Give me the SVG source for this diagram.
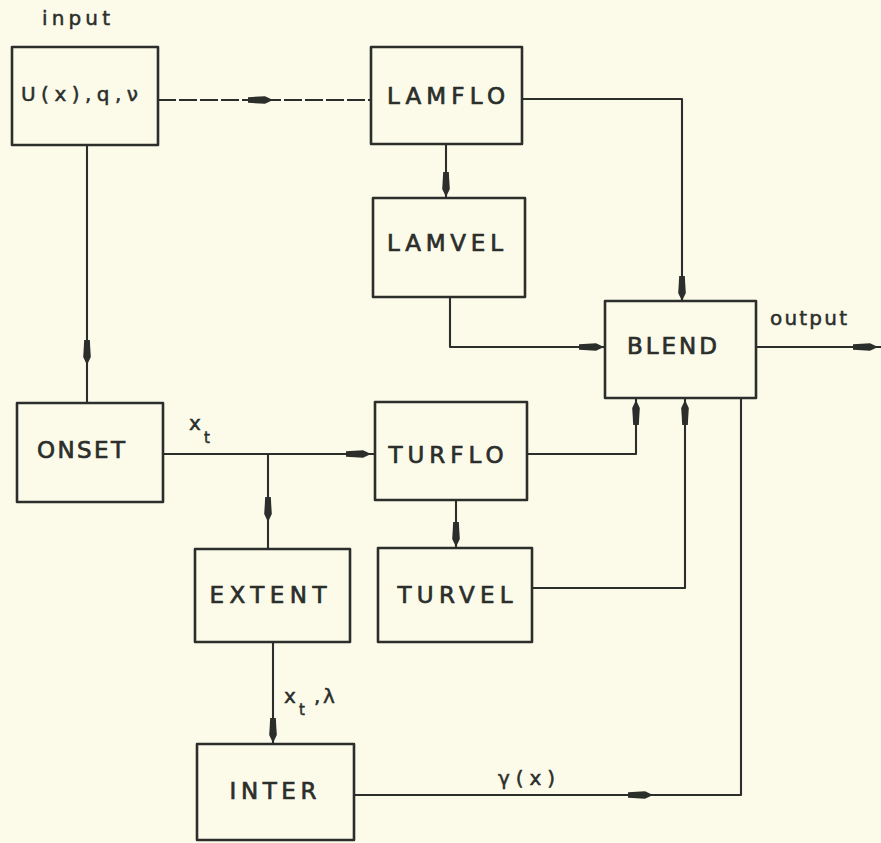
<svg xmlns="http://www.w3.org/2000/svg" xmlns:xlink="http://www.w3.org/1999/xlink" width="881" height="843" viewBox="0 0 881 843">
<defs>
<style>
.box{fill:none;stroke:#2b2e2a;stroke-width:2.6;stroke-linejoin:round}
.ln{fill:none;stroke:#2b2e2a;stroke-width:2.1;stroke-linejoin:round}
.t{font-family:"DejaVu Sans",sans-serif;font-size:23px;fill:#2b2e2a;stroke:#2b2e2a;stroke-width:0.7;text-anchor:middle}
.s{font-family:"DejaVu Sans",sans-serif;font-size:20px;fill:#2b2e2a;stroke:#2b2e2a;stroke-width:0.5}
.ss{font-family:"DejaVu Sans",sans-serif;font-size:15px;fill:#2b2e2a;stroke:#2b2e2a;stroke-width:0.5}
.ah{fill:#2b2e2a}
</style>
<path id="ah" class="ah" d="M0,0 L-8,-3.8 L-25,-2.8 L-25,2.8 L-8,3.8 Z"/>
</defs>
<rect width="881" height="843" fill="#fcfbea"/>

<g id="connectors">
<path class="ln" d="M158,100 H371" stroke-dasharray="18 3"/>
<use xlink:href="#ah" transform="translate(273,100)"/>
<path class="ln" d="M87,145 V403"/>
<use xlink:href="#ah" transform="translate(87,365) rotate(90)"/>
<path class="ln" d="M522,99 H682 V301"/>
<use xlink:href="#ah" transform="translate(682,301) rotate(90)"/>
<path class="ln" d="M446,144 V198"/>
<use xlink:href="#ah" transform="translate(446,197) rotate(90)"/>
<path class="ln" d="M450,297 V347 H605"/>
<use xlink:href="#ah" transform="translate(604,347)"/>
<path class="ln" d="M163,454 H375"/>
<use xlink:href="#ah" transform="translate(371,454)"/>
<path class="ln" d="M268,454 V549"/>
<use xlink:href="#ah" transform="translate(268,522) rotate(90)"/>
<path class="ln" d="M527,454 H636 V398"/>
<use xlink:href="#ah" transform="translate(636,400) rotate(-90)"/>
<path class="ln" d="M456,500 V548"/>
<use xlink:href="#ah" transform="translate(456,547) rotate(90)"/>
<path class="ln" d="M532,588 H685 V398"/>
<use xlink:href="#ah" transform="translate(685,400) rotate(-90)"/>
<path class="ln" d="M273,642 V744"/>
<use xlink:href="#ah" transform="translate(273,743) rotate(90)"/>
<path class="ln" d="M354,795 H741 V398"/>
<use xlink:href="#ah" transform="translate(653,795)"/>
<path class="ln" d="M756,347 H881"/>
<use xlink:href="#ah" transform="translate(878,347)"/>
<text class="s" x="189" y="430">x</text><text class="ss" x="204" y="443">t</text>
<text class="s" x="284" y="703">x</text><text class="ss" x="299" y="715">t</text><text class="s" x="314" y="703">,</text><text class="s" x="323" y="703">λ</text>
<text class="s" x="498" y="785" textLength="57" lengthAdjust="spacing">γ(x)</text>
<text class="s" x="770" y="325" textLength="77" lengthAdjust="spacing">output</text>
</g>

<g id="input">
<text class="s" x="42" y="25" textLength="68" lengthAdjust="spacing">input</text>
<rect class="box" x="12" y="47" width="146" height="98"/>
<text class="s" x="21" y="101" textLength="117" lengthAdjust="spacing">U(x),q,ν</text>
</g>
<g id="lamflo">
<rect class="box" x="371" y="47" width="151" height="97"/>
<text class="t" x="446" y="104" textLength="118" lengthAdjust="spacing">LAMFLO</text>
</g>
<g id="lamvel">
<rect class="box" x="373" y="198" width="152" height="99"/>
<text class="t" x="445" y="251" textLength="116" lengthAdjust="spacing">LAMVEL</text>
</g>
<g id="blend">
<rect class="box" x="605" y="301" width="151" height="97"/>
<text class="t" x="672" y="354" textLength="90" lengthAdjust="spacing">BLEND</text>
</g>
<g id="onset">
<rect class="box" x="17" y="403" width="146" height="99"/>
<text class="t" x="81" y="458" textLength="88" lengthAdjust="spacing">ONSET</text>
</g>
<g id="turflo">
<rect class="box" x="375" y="402" width="152" height="98"/>
<text class="t" x="446" y="463" textLength="115" lengthAdjust="spacing">TURFLO</text>
</g>
<g id="turvel">
<rect class="box" x="378" y="548" width="154" height="94"/>
<text class="t" x="455" y="603" textLength="115" lengthAdjust="spacing">TURVEL</text>
</g>
<g id="extent">
<rect class="box" x="195" y="549" width="155" height="93"/>
<text class="t" x="268" y="603" textLength="117" lengthAdjust="spacing">EXTENT</text>
</g>
<g id="inter">
<rect class="box" x="197" y="744" width="157" height="96"/>
<text class="t" x="273" y="799" textLength="87" lengthAdjust="spacing">INTER</text>
</g>
</svg>
